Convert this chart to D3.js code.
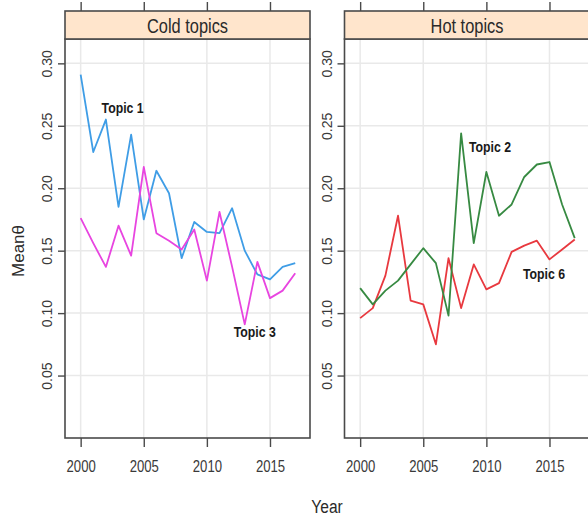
<!DOCTYPE html>
<html>
<head>
<meta charset="utf-8">
<script src="https://cdn.jsdelivr.net/npm/d3@7"></script>
<style>
  html, body { margin: 0; padding: 0; background: #ffffff; }
  svg { display: block; }
</style>
</head>
<body>
<svg id="chart" width="588" height="520"></svg>
<script>
// ---- data ----
const years = [2000, 2001, 2002, 2003, 2004, 2005, 2006, 2007, 2008,
               2009, 2010, 2011, 2012, 2013, 2014, 2015, 2016, 2017];
const topic1 = [0.291, 0.229, 0.255, 0.185, 0.243, 0.175, 0.214, 0.196, 0.144,
                0.173, 0.165, 0.164, 0.184, 0.150, 0.131, 0.127, 0.137, 0.140];
const topic3 = [0.176, 0.156, 0.137, 0.170, 0.146, 0.217, 0.164, 0.158, 0.151,
                0.167, 0.126, 0.181, 0.137, 0.091, 0.141, 0.112, 0.118, 0.132];
const topic2 = [0.120, 0.107, 0.118, 0.126, 0.139, 0.152, 0.140, 0.098, 0.244,
                0.156, 0.213, 0.178, 0.187, 0.209, 0.219, 0.221, 0.187, 0.160];
const topic6 = [0.096, 0.104, 0.130, 0.178, 0.110, 0.107, 0.075, 0.144, 0.104,
                0.139, 0.119, 0.124, 0.149, 0.154, 0.158, 0.143, 0.151, 0.159];
const panelTitles = ["Cold topics", "Hot topics"];
const seriesNames = ["Topic 1", "Topic 3", "Topic 2", "Topic 6"];
const xTicks = [2000, 2005, 2010, 2015];
const yTicks = [0.05, 0.10, 0.15, 0.20, 0.25, 0.30];
const yTickLabels = ["0.05", "0.10", "0.15", "0.20", "0.25", "0.30"];
const xTitle = "Year";
const yTitle = "Meanθ";

// ---- layout / style ----
const svg = d3.select("#chart");
const font = "'Liberation Sans', Arial, sans-serif";
const squeeze = 0.82; // reference glyphs are horizontally condensed
const stripTop = 11, plotTop = 39, plotBottom = 438;
const colors = { "Topic 1": "#3f9de6", "Topic 3": "#e845e0", "Topic 2": "#378a42", "Topic 6": "#e8393f" };

function condensedText(parent, x, y, str, size, opts = {}) {
  return parent.append("text")
    .attr("transform", `translate(${x},${y}) scale(${squeeze},1)`)
    .attr("text-anchor", opts.anchor || "start")
    .attr("font-family", font)
    .attr("font-weight", opts.weight || "normal")
    .attr("font-size", size)
    .attr("fill", opts.fill || "#2a2a2a")
    .text(str);
}

const panels = [
  { title: panelTitles[0], range: [65, 310],
    series: [{ name: seriesNames[0], values: topic1 }, { name: seriesNames[1], values: topic3 }],
    labels: [{ name: seriesNames[0], at: [2001.66, 0.260] }, { name: seriesNames[1], at: [2012.12, 0.0805] }] },
  { title: panelTitles[1], range: [344.5, 589.5],
    series: [{ name: seriesNames[3], values: topic6 }, { name: seriesNames[2], values: topic2 }],
    labels: [{ name: seriesNames[2], at: [2008.62, 0.229] }, { name: seriesNames[3], at: [2012.9, 0.127] }] }
];

const y = d3.scaleLinear().domain([0, 0.3195]).range([plotBottom, plotTop]);

panels.forEach(p => {
  const x = d3.scaleLinear().domain([1998.76, 2018.17]).range(p.range);
  const g = svg.append("g");

  // grid
  g.selectAll(".hg").data(yTicks).enter().append("line")
    .attr("x1", p.range[0]).attr("x2", p.range[1])
    .attr("y1", d => y(d)).attr("y2", d => y(d))
    .attr("stroke", "#e9e9e9").attr("stroke-width", 1.5);
  g.selectAll(".vg").data(xTicks).enter().append("line")
    .attr("x1", d => x(d)).attr("x2", d => x(d))
    .attr("y1", plotTop).attr("y2", plotBottom)
    .attr("stroke", "#e9e9e9").attr("stroke-width", 1.5);

  // lines
  const line = d3.line().x((d, i) => x(years[i])).y(d => y(d));
  p.series.forEach(s => {
    g.append("path").datum(s.values)
      .attr("fill", "none")
      .attr("stroke", colors[s.name])
      .attr("stroke-width", 1.8)
      .attr("stroke-linejoin", "round")
      .attr("d", line);
  });

  // series labels
  p.labels.forEach(l => {
    condensedText(g, x(l.at[0]), y(l.at[1]), l.name, 15, { weight: "bold", fill: "#1a1a1a" });
  });

  // panel border
  g.append("rect")
    .attr("x", p.range[0]).attr("y", plotTop)
    .attr("width", p.range[1] - p.range[0]).attr("height", plotBottom - plotTop)
    .attr("fill", "none").attr("stroke", "#4a4a4a").attr("stroke-width", 1.6);

  // strip
  g.append("rect")
    .attr("x", p.range[0]).attr("y", stripTop)
    .attr("width", p.range[1] - p.range[0]).attr("height", plotTop - stripTop)
    .attr("fill", "#ffe5cc").attr("stroke", "#4a4a4a").attr("stroke-width", 1.6);
  condensedText(g, (p.range[0] + p.range[1]) / 2, 33, p.title, 20, { anchor: "middle" });

  // top ticks
  const top = g.append("g").attr("transform", `translate(0,${stripTop})`)
    .call(d3.axisTop(x).tickValues(xTicks).tickSize(9).tickFormat(""));
  top.select(".domain").remove();
  top.selectAll("line").attr("stroke", "#4a4a4a").attr("stroke-width", 1.4);

  // bottom axis
  const bot = g.append("g").attr("transform", `translate(0,${plotBottom})`)
    .call(d3.axisBottom(x).tickValues(xTicks).tickSize(9).tickPadding(14).tickFormat(d3.format("d")));
  bot.select(".domain").remove();
  bot.selectAll("line").attr("stroke", "#4a4a4a").attr("stroke-width", 1.4);
  bot.selectAll("text")
    .attr("transform", `scale(${squeeze},1)`)
    .attr("font-family", font).attr("font-size", 16).attr("fill", "#3a3a3a");

  // left axis
  const left = g.append("g").attr("transform", `translate(${p.range[0]},0)`)
    .call(d3.axisLeft(y).tickValues(yTicks).tickSize(7).tickFormat((d, i) => yTickLabels[i]));
  left.select(".domain").remove();
  left.selectAll("line").attr("stroke", "#4a4a4a").attr("stroke-width", 1.4);
  left.selectAll("text")
    .attr("transform", "rotate(-90)")
    .attr("x", 0).attr("y", -13).attr("dy", null)
    .attr("text-anchor", "middle")
    .attr("font-family", font).attr("font-size", 14).attr("fill", "#3a3a3a");
});

// axis titles
condensedText(svg, 327, 513, xTitle, 19, { anchor: "middle" });
svg.append("text")
  .attr("transform", "translate(24,251) rotate(-90)")
  .attr("text-anchor", "middle")
  .attr("font-family", font).attr("font-size", 17).attr("fill", "#2a2a2a")
  .text(yTitle);
</script>
</body>
</html>
